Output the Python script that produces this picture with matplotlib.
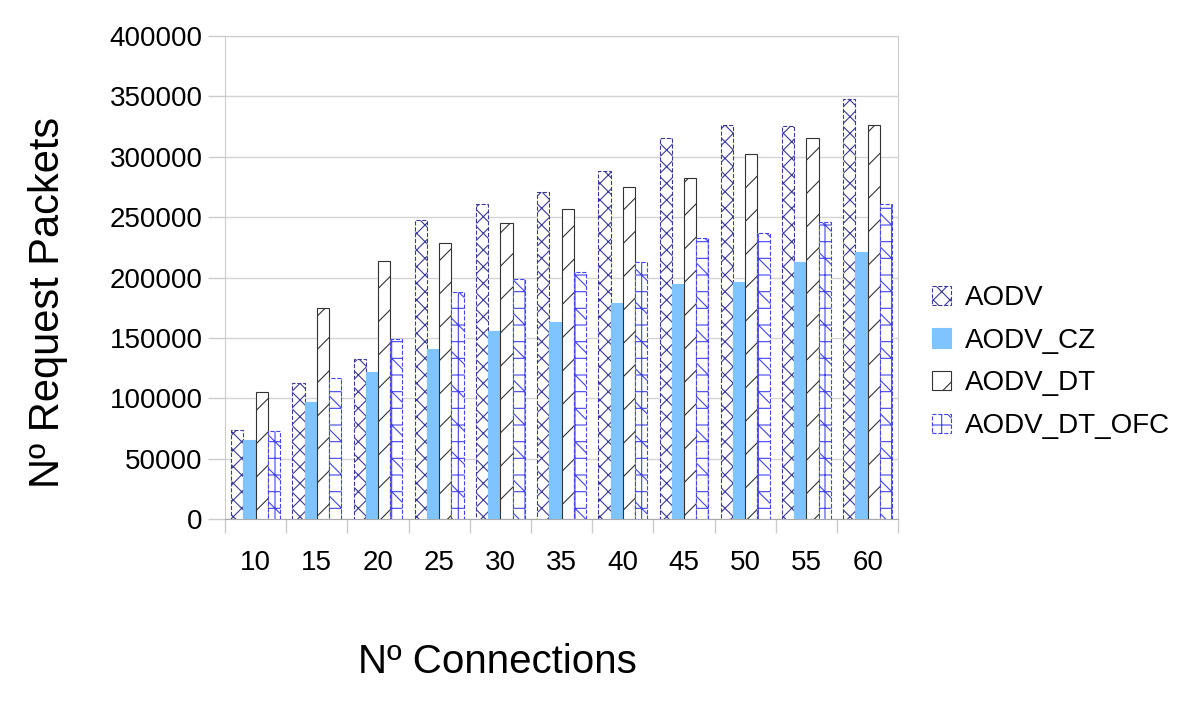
import matplotlib
matplotlib.use('Agg')
import matplotlib.pyplot as plt
import numpy as np

plt.rcParams['font.family'] = ['Liberation Sans', 'DejaVu Sans']
plt.rcParams['hatch.linewidth'] = 0.8

connections = ['10', '15', '20', '25', '30', '35', '40', '45', '50', '55', '60']
aodv = [73700, 112400, 132500, 247400, 261100, 270800, 288500, 315200, 326300, 325700, 347600]
aodv_cz = [65400, 97100, 122000, 140500, 155700, 162900, 179100, 194600, 196500, 213100, 221400]
aodv_dt = [104900, 174500, 213700, 228800, 244900, 256700, 274700, 282700, 301900, 315200, 326300]
aodv_dt_ofc = [73100, 117000, 148800, 188200, 198500, 204300, 213100, 233000, 237100, 246200, 260800]
series_names = ['AODV', 'AODV_CZ', 'AODV_DT', 'AODV_DT_OFC']

fig = plt.figure(figsize=(12, 7.13), dpi=100)
ax = fig.add_axes([0.1875, 0.272, 0.561, 0.6775])

x = np.arange(len(connections))
w = 0.2

# style per series: (facecolor, edgecolor, hatch, linestyle)
styles = [
    ('white', '#3a3a96', 'xx', '--'),
    ('#80c4ff', '#80c4ff', None, '-'),
    ('white', '#333333', '/', '-'),
    ('white', '#4444ee', '+\\', '--'),
]
data = [aodv, aodv_cz, aodv_dt, aodv_dt_ofc]

for i, (vals, name, st) in enumerate(zip(data, series_names, styles)):
    fc, ec, hatch, ls = st
    ax.bar(x - 1.5 * w + i * w, vals, w, color=fc, edgecolor=ec, hatch=hatch,
           linewidth=0.8, linestyle=ls, label=name, zorder=3)

ax.set_xlim(-0.5, len(connections) - 0.5)
ax.set_ylim(0, 400000)
ax.set_yticks(np.arange(0, 400001, 50000))
ax.set_yticklabels([str(v) for v in range(0, 400001, 50000)], fontsize=20)
ax.set_xticks(x)
ax.set_xticklabels(connections, fontsize=20)
ax.tick_params(axis='x', length=0, pad=22)
ax.tick_params(axis='y', length=12, color='#cccccc', width=1, pad=4)

# category separators below axis
ax.set_xticks(np.arange(-0.5, len(connections), 1), minor=True)
ax.tick_params(axis='x', which='minor', length=10, color='#cccccc', width=1)

ax.yaxis.grid(True, color='#d4d4d4', linewidth=1, zorder=0)
ax.set_axisbelow(True)
for s in ax.spines.values():
    s.set_color('#cccccc')
ax.spines['bottom'].set_color('#aaaaaa')

ax.set_ylabel('Nº Request Packets', fontsize=30)
ax.yaxis.set_label_coords(-0.233, 0.449)
ax.set_xlabel('Nº Connections', fontsize=29)
ax.xaxis.set_label_coords(0.404, -0.257)

ax.legend(loc='center left', bbox_to_anchor=(1.013, 0.325), frameon=False,
          fontsize=20, handlelength=0.7, handleheight=0.7, labelspacing=0.6,
          handletextpad=0.5)

fig.savefig('out.png', dpi=100)
